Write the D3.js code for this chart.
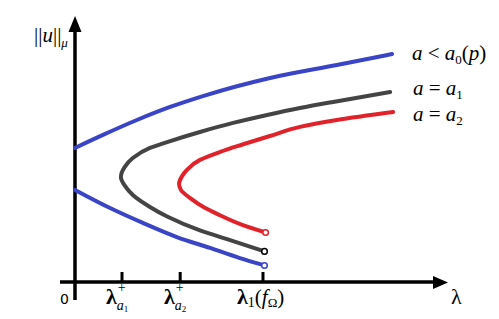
<!DOCTYPE html>
<html><head><meta charset="utf-8">
<script src="https://cdn.jsdelivr.net/npm/d3@7"></script>
<style>
html,body{margin:0;padding:0;background:#fff;}
svg{display:block;}
</style></head>
<body>
<svg id="chart" width="499" height="319"></svg>
<script>
// ---- data (λ, ||u||) in arbitrary units ----
const blueUpperLambda = [0, 0.75, 1.66, 2.55, 3.43, 5.23, 7.02, 8.50];
const blueUpperNorm   = [5.04, 5.53, 6.09, 6.58, 6.99, 7.67, 8.16, 8.57];
const blueLowerLambda = [0, 0.94, 1.82, 2.73, 3.62, 4.42, 5.04];
const blueLowerNorm   = [3.46, 2.78, 2.22, 1.69, 1.28, 0.90, 0.64];
const blackLambda = [8.45, 6.92, 6.03, 5.15, 4.24, 3.35, 2.47, 2.01, 1.55, 1.33, 1.23, 1.34, 1.55, 2.01, 2.47, 3.35, 4.24, 5.04];
const blackNorm   = [7.14, 6.77, 6.54, 6.28, 5.98, 5.64, 5.26, 5.04, 4.66, 4.32, 3.95, 3.61, 3.27, 2.82, 2.46, 1.94, 1.54, 1.17];
const redLambda = [8.53, 7.02, 6.03, 5.23, 4.45, 3.89, 3.35, 3.00, 2.87, 2.79, 2.84, 3.08, 3.49, 3.81, 4.50, 5.07];
const redNorm   = [6.39, 6.09, 5.83, 5.49, 5.15, 4.89, 4.59, 4.21, 3.98, 3.68, 3.46, 3.16, 2.78, 2.56, 2.14, 1.88];
const tickValues = [1.26, 2.82, 5.04];
const legendSubs = ["0", "1", "2"];

const colors = {blue:"#3a44c6", black:"#444444", red:"#e1222b"};

const svg = d3.select("#chart");
const x = d3.scaleLinear().domain([0, 10]).range([75, 448]);
const y = d3.scaleLinear().domain([0, 10]).range([282, 16]);

const zip = (a, b) => a.map((v, i) => [v, b[i]]);
const lineX = d3.line().x(d => x(d[0])).y(d => y(d[1])).curve(d3.curveMonotoneX);
const lineY = d3.line().x(d => x(d[0])).y(d => y(d[1])).curve(d3.curveMonotoneY);

// axes
const ax = svg.append("g");
ax.append("line").attr("x1", 60).attr("x2", x(10) - 10).attr("y1", y(0)).attr("y2", y(0))
  .attr("stroke", "#000").attr("stroke-width", 3.5);
ax.append("path").attr("d", `M${x(10)},${y(0)+0.5} L${x(10)-15},${y(0)-6} L${x(10)-15},${y(0)+7} Z`).attr("fill", "#000");
ax.append("line").attr("x1", x(0)).attr("x2", x(0)).attr("y1", 300).attr("y2", y(10) + 10)
  .attr("stroke", "#000").attr("stroke-width", 3.5);
ax.append("path").attr("d", `M${x(0)},${y(10)} L${x(0)-6.5},${y(10)+16} L${x(0)+6.5},${y(10)+16} Z`).attr("fill", "#000");

// ticks
ax.selectAll(".tk").data(tickValues).enter().append("line")
  .attr("x1", d => x(d)).attr("x2", d => x(d)).attr("y1", y(0) - 10).attr("y2", y(0))
  .attr("stroke", "#000").attr("stroke-width", 3);

// curves
const series = [
  {pts: zip(blueUpperLambda, blueUpperNorm), c: colors.blue, end: false, gen: lineX},
  {pts: zip(blueLowerLambda, blueLowerNorm), c: colors.blue, end: true, gen: lineX},
  {pts: zip(blackLambda, blackNorm), c: colors.black, end: true, ec: "#000", gen: lineY},
  {pts: zip(redLambda, redNorm), c: colors.red, end: true, gen: lineY}
];
series.forEach(s => {
  svg.append("path").attr("d", s.gen(s.pts)).attr("fill", "none")
    .attr("stroke", s.c).attr("stroke-width", 4).attr("stroke-linecap", "round");
});
series.filter(s => s.end).forEach(s => {
  const p = s.pts[s.pts.length - 1];
  svg.append("circle").attr("cx", x(p[0]) + 1.5).attr("cy", y(p[1]) + 0.5).attr("r", 2.8)
    .attr("fill", "#fff").attr("stroke", s.ec || s.c).attr("stroke-width", 1.5);
});

// labels
const mathFont = "Liberation Serif, Times New Roman, DejaVu Serif, serif";
function mtext(xp, yp, parts, size, anchor) {
  const t = svg.append("text").attr("x", xp).attr("y", yp)
    .style("font-family", mathFont).attr("font-size", size).attr("text-anchor", anchor || "start");
  parts.forEach(p => {
    const ts = t.append("tspan").text(p.t);
    if (p.italic) ts.attr("font-style", "italic");
    if (p.bold) ts.attr("font-weight", "bold");
    if (p.size) ts.attr("font-size", p.size);
    if (p.dx !== undefined) ts.attr("dx", p.dx);
    if (p.dy !== undefined) ts.attr("dy", p.dy);
  });
  return t;
}

svg.append("text").attr("x", 60).attr("y", 304).style("font-family", "DejaVu Sans, sans-serif")
  .attr("font-size", 14).text("0");

// tick labels
mtext(106, 304, [{t:"λ", size:22, bold:true}, {t:"+", size:14, dy:-12, dx:1}, {t:"a", italic:true, size:14, dx:-9, dy:18}, {t:"1", size:9, dy:2}], 22);
mtext(164, 304, [{t:"λ", size:22, bold:true}, {t:"+", size:14, dy:-12, dx:1}, {t:"a", italic:true, size:14, dx:-9, dy:18}, {t:"2", size:9, dy:2}], 22);
mtext(237, 304, [{t:"λ", size:22, bold:true}, {t:"1", size:14, dy:3}, {t:"(", size:21, dy:-3}, {t:"f", italic:true, size:21}, {t:"Ω", size:13, dy:3}, {t:")", size:21, dy:-3}], 21);
mtext(451, 304, [{t:"λ", size:22}], 22);

// y label ||u||_μ
mtext(34, 42, [{t:"||", size:21}, {t:"u", italic:true, size:21}, {t:"||", size:21}, {t:"μ", italic:true, size:13, dy:5}], 21);

// legend
mtext(412, 60, [{t:"a", italic:true}, {t:" < "}, {t:"a", italic:true}, {t:legendSubs[0], size:13, dy:4}, {t:"(", dy:-4}, {t:"p", italic:true}, {t:")"}], 21);
mtext(413, 95, [{t:"a", italic:true}, {t:" = "}, {t:"a", italic:true}, {t:legendSubs[1], size:13, dy:4}], 21);
mtext(413, 121, [{t:"a", italic:true}, {t:" = "}, {t:"a", italic:true}, {t:legendSubs[2], size:13, dy:4}], 21);
</script>
</body></html>
